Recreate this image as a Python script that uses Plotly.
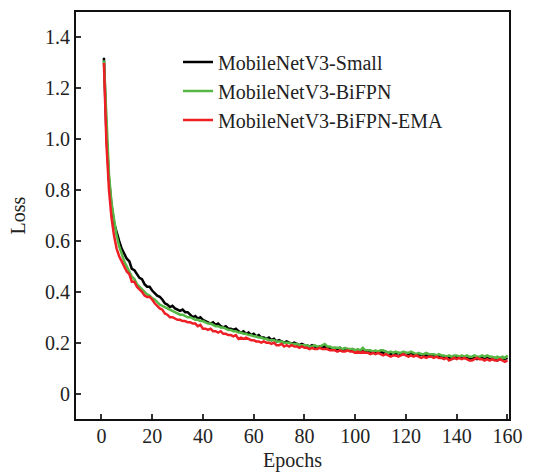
import plotly.graph_objects as go

epochs = list(range(1, 161))

loss_small = [
    1.32, 1.02, 0.84, 0.74, 0.67, 0.63, 0.60, 0.57, 0.55, 0.53,
    0.52, 0.49, 0.485, 0.47, 0.455, 0.45, 0.43, 0.42, 0.42, 0.405,
    0.395, 0.385, 0.38, 0.37, 0.355, 0.35, 0.34, 0.345, 0.335, 0.33,
    0.325, 0.33, 0.32, 0.32, 0.31, 0.30, 0.305, 0.295, 0.30, 0.29,
    0.285, 0.28, 0.275, 0.28, 0.27, 0.275, 0.265, 0.26, 0.265, 0.255,
    0.255, 0.25, 0.255, 0.245, 0.24, 0.245, 0.235, 0.24, 0.23, 0.235,
    0.225, 0.23, 0.22, 0.22, 0.215, 0.22, 0.21, 0.215, 0.205, 0.21,
    0.205, 0.20, 0.205, 0.20, 0.195, 0.20, 0.195, 0.19, 0.195, 0.19,
    0.19, 0.185, 0.19, 0.185, 0.18, 0.185, 0.18, 0.185, 0.18, 0.18,
    0.175, 0.18, 0.175, 0.18, 0.17, 0.175, 0.175, 0.17, 0.175, 0.17,
    0.17, 0.165, 0.17, 0.165, 0.17, 0.165, 0.16, 0.165, 0.16, 0.165,
    0.16, 0.165, 0.16, 0.155, 0.16, 0.155, 0.16, 0.155, 0.155, 0.16,
    0.155, 0.16, 0.15, 0.155, 0.15, 0.155, 0.15, 0.15, 0.145, 0.15,
    0.15, 0.145, 0.15, 0.145, 0.14, 0.145, 0.14, 0.135, 0.14, 0.145,
    0.14, 0.145, 0.14, 0.14, 0.135, 0.14, 0.14, 0.135, 0.14, 0.14,
    0.135, 0.14, 0.14, 0.135, 0.14, 0.13, 0.135, 0.14, 0.135, 0.14,
]

loss_bifpn = [
    1.31, 1.05, 0.86, 0.75, 0.68, 0.62, 0.58, 0.55, 0.52, 0.50,
    0.48, 0.46, 0.45, 0.43, 0.42, 0.41, 0.40, 0.39, 0.385, 0.375,
    0.37, 0.36, 0.35, 0.345, 0.34, 0.335, 0.33, 0.325, 0.32, 0.315,
    0.31, 0.31, 0.305, 0.30, 0.30, 0.295, 0.29, 0.29, 0.285, 0.285,
    0.28, 0.275, 0.275, 0.27, 0.265, 0.265, 0.26, 0.26, 0.255, 0.25,
    0.25, 0.245, 0.245, 0.24, 0.24, 0.235, 0.235, 0.23, 0.23, 0.225,
    0.225, 0.22, 0.22, 0.215, 0.215, 0.21, 0.21, 0.21, 0.205, 0.205,
    0.205, 0.20, 0.20, 0.20, 0.195, 0.195, 0.195, 0.19, 0.19, 0.19,
    0.19, 0.185, 0.185, 0.19, 0.185, 0.185, 0.19, 0.195, 0.185, 0.185,
    0.18, 0.18, 0.18, 0.18, 0.175, 0.18, 0.175, 0.175, 0.175, 0.17,
    0.175, 0.17, 0.18, 0.17, 0.17, 0.17, 0.165, 0.17, 0.165, 0.17,
    0.17, 0.165, 0.16, 0.165, 0.16, 0.165, 0.16, 0.16, 0.165, 0.16,
    0.16, 0.165, 0.16, 0.155, 0.16, 0.155, 0.155, 0.16, 0.155, 0.155,
    0.155, 0.15, 0.155, 0.15, 0.15, 0.145, 0.15, 0.145, 0.15, 0.15,
    0.145, 0.15, 0.145, 0.15, 0.145, 0.145, 0.15, 0.145, 0.145, 0.15,
    0.145, 0.15, 0.145, 0.145, 0.14, 0.145, 0.14, 0.145, 0.14, 0.15,
]

loss_bifpn_ema = [
    1.30, 0.98, 0.80, 0.69, 0.62, 0.57, 0.54, 0.52, 0.50, 0.48,
    0.47, 0.44, 0.44, 0.42, 0.41, 0.40, 0.385, 0.38, 0.38, 0.37,
    0.355, 0.345, 0.335, 0.33, 0.315, 0.31, 0.30, 0.30, 0.295, 0.29,
    0.29, 0.285, 0.285, 0.28, 0.28, 0.275, 0.275, 0.265, 0.27, 0.255,
    0.255, 0.25, 0.255, 0.245, 0.245, 0.24, 0.245, 0.235, 0.235, 0.23,
    0.23, 0.225, 0.23, 0.215, 0.22, 0.215, 0.22, 0.215, 0.21, 0.21,
    0.205, 0.205, 0.20, 0.205, 0.20, 0.20, 0.195, 0.20, 0.19, 0.19,
    0.195, 0.185, 0.19, 0.185, 0.19, 0.185, 0.185, 0.18, 0.185, 0.18,
    0.18, 0.175, 0.18, 0.175, 0.175, 0.18, 0.175, 0.175, 0.175, 0.17,
    0.17, 0.17, 0.165, 0.17, 0.165, 0.165, 0.17, 0.165, 0.165, 0.16,
    0.165, 0.16, 0.165, 0.16, 0.16, 0.155, 0.16, 0.155, 0.16, 0.155,
    0.15, 0.155, 0.15, 0.145, 0.15, 0.15, 0.145, 0.15, 0.155, 0.15,
    0.145, 0.15, 0.145, 0.15, 0.145, 0.14, 0.145, 0.14, 0.145, 0.145,
    0.14, 0.145, 0.14, 0.14, 0.135, 0.14, 0.13, 0.135, 0.14, 0.135,
    0.14, 0.135, 0.14, 0.135, 0.13, 0.13, 0.135, 0.14, 0.135, 0.135,
    0.13, 0.135, 0.13, 0.135, 0.13, 0.13, 0.135, 0.13, 0.125, 0.13,
]

series_names = ["MobileNetV3-Small", "MobileNetV3-BiFPN", "MobileNetV3-BiFPN-EMA"]
series_colors = ["#000000", "#56b844", "#ee1f25"]

x_tick_vals = [0, 20, 40, 60, 80, 100, 120, 140, 160]
x_tick_text = ["0", "20", "40", "60", "80", "100", "120", "140", "160"]
y_tick_vals = [0, 0.2, 0.4, 0.6, 0.8, 1.0, 1.2, 1.4]
y_tick_text = ["0", "0.2", "0.4", "0.6", "0.8", "1.0", "1.2", "1.4"]

FONT = "Liberation Serif"

fig = go.Figure()
for name, ys, col in zip(series_names, [loss_small, loss_bifpn, loss_bifpn_ema], series_colors):
    fig.add_trace(go.Scatter(
        x=epochs, y=ys, mode="lines", name=name, legendgroup=name,
        line=dict(color=col, width=2.5),
    ))

fig.update_layout(
    width=534, height=472,
    margin=dict(l=76, r=25, t=12, b=53),
    paper_bgcolor="white", plot_bgcolor="white",
    font=dict(family=FONT, size=20, color="#222222"),
    showlegend=True,
    legend=dict(
        x=0.2356, y=0.925, xanchor="left", yanchor="top",
        bgcolor="rgba(0,0,0,0)", borderwidth=0,
        font=dict(family=FONT, size=20, color="#222222"),
        tracegroupgap=0, traceorder="grouped",
    ),
)
fig.update_xaxes(
    range=[-10, 160.6], tickvals=x_tick_vals, ticktext=x_tick_text,
    ticks="inside", ticklen=5, tickwidth=1.5, tickcolor="#333333",
    showline=True, linecolor="#111111", linewidth=2, mirror=True,
    showgrid=False, zeroline=False, automargin=False,
    title=dict(text="Epochs", standoff=14, font=dict(family=FONT, size=20)),
    ticklabelstandoff=-2,
)
fig.update_yaxes(
    range=[-0.1, 1.5], tickvals=y_tick_vals, ticktext=y_tick_text,
    ticks="inside", ticklen=5, tickwidth=1.5, tickcolor="#333333",
    showline=True, linecolor="#111111", linewidth=2, mirror=True,
    showgrid=False, zeroline=False, automargin=False,
    title=dict(text="Loss", standoff=14, font=dict(family=FONT, size=20)),
    ticklabelstandoff=0,
)

fig.write_html("out.html")
